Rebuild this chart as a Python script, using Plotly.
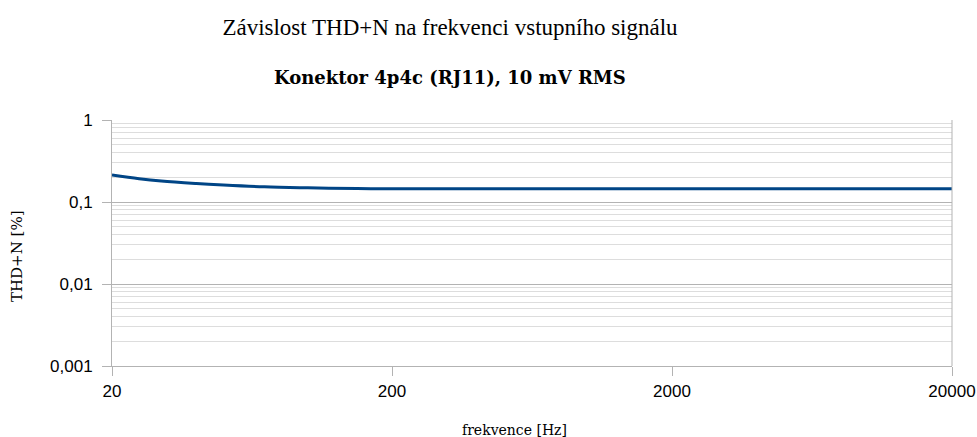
import plotly.graph_objects as go

# frekvence [Hz] a THD+N [%]
freq = [20, 25, 30, 40, 50, 70, 100, 150, 200, 500, 1000, 2000, 5000, 10000, 20000]
thdn = [0.213, 0.192, 0.180, 0.168, 0.161, 0.153, 0.149, 0.146, 0.145, 0.145, 0.145,
        0.145, 0.145, 0.145, 0.145]

x_ticks = [20, 200, 2000, 20000]
y_ticks = [0.001, 0.01, 0.1, 1]
y_tick_labels = ["0,001", "0,01", "0,1", "1"]
y_minor = [m * d for d in (0.001, 0.01, 0.1) for m in range(2, 10)]

SERIF = "DejaVu Serif, Liberation Serif, serif"
TITLE_SERIF = "Liberation Serif, DejaVu Serif, serif"
SANS = "Liberation Sans, Arial, sans-serif"

W, H = 977, 437
L, R, T, B = 112, 25, 120, 71
PW, PH = W - L - R, H - T - B

fig = go.Figure()
fig.add_trace(go.Scatter(
    x=freq, y=thdn, mode="lines",
    line=dict(color="#004586", width=3, shape="spline"),
    showlegend=False,
))

fig.update_xaxes(
    type="log", range=[1.30103, 4.30103], automargin=False,
    tickmode="array", tickvals=x_ticks, ticktext=[str(v) for v in x_ticks],
    showgrid=False, ticks="outside", ticklen=9, tickcolor="#b3b3b3",
    showline=True, linecolor="#b3b3b3", linewidth=1, mirror=False,
    tickfont=dict(family=SANS, size=17, color="#000000"),
    ticklabelstandoff=1,
    zeroline=False,
)
fig.update_yaxes(
    type="log", range=[-3, 0], automargin=False,
    tickmode="array", tickvals=y_ticks, ticktext=y_tick_labels,
    showgrid=True, gridcolor="#b3b3b3", gridwidth=1,
    minor=dict(tickmode="array", tickvals=y_minor, showgrid=True,
               gridcolor="#dddddd", gridwidth=1, ticks=""),
    ticks="outside", ticklen=9, tickcolor="#b3b3b3",
    showline=True, linecolor="#b3b3b3", linewidth=1, mirror=False,
    tickfont=dict(family=SANS, size=17, color="#000000"),
    ticklabelstandoff=6,
    zeroline=False,
)

fig.add_shape(type="line", xref="paper", yref="paper", x0=1, x1=1, y0=0, y1=1,
              line=dict(color="#b3b3b3", width=1))

# podtitulek a popisky os
fig.add_annotation(
    text="<b>Konektor 4p4c (RJ11), 10 mV RMS</b>",
    xref="paper", yref="paper", x=(450 - L) / PW, y=(H - B - 77) / PH,
    xanchor="center", yanchor="middle", showarrow=False,
    font=dict(family=SERIF, size=18, color="#000000"),
)
fig.add_annotation(
    text="frekvence [Hz]",
    xref="paper", yref="paper", x=(514 - L) / PW, y=-(430 - (H - B)) / PH,
    xanchor="center", yanchor="middle", showarrow=False,
    font=dict(family=SERIF, size=14, color="#000000"),
)
fig.add_annotation(
    text="THD+N [%]", textangle=-90,
    xref="paper", yref="paper", x=(17 - L) / PW, y=(H - B - 256) / PH,
    xanchor="center", yanchor="middle", showarrow=False,
    font=dict(family=SERIF, size=15, color="#000000"),
)

fig.update_layout(
    width=W, height=H,
    title=dict(text="Závislost THD+N na frekvenci vstupního signálu",
               x=450 / W, xanchor="center", xref="container",
               y=1 - 27 / H, yanchor="middle",
               font=dict(family=TITLE_SERIF, size=23, color="#000000")),
    plot_bgcolor="#ffffff", paper_bgcolor="#ffffff",
    margin=dict(l=L, r=R, t=T, b=B),
)

fig.write_html("out.html", config={"displayModeBar": False},
               post_script="document.body.style.margin = '0';")
